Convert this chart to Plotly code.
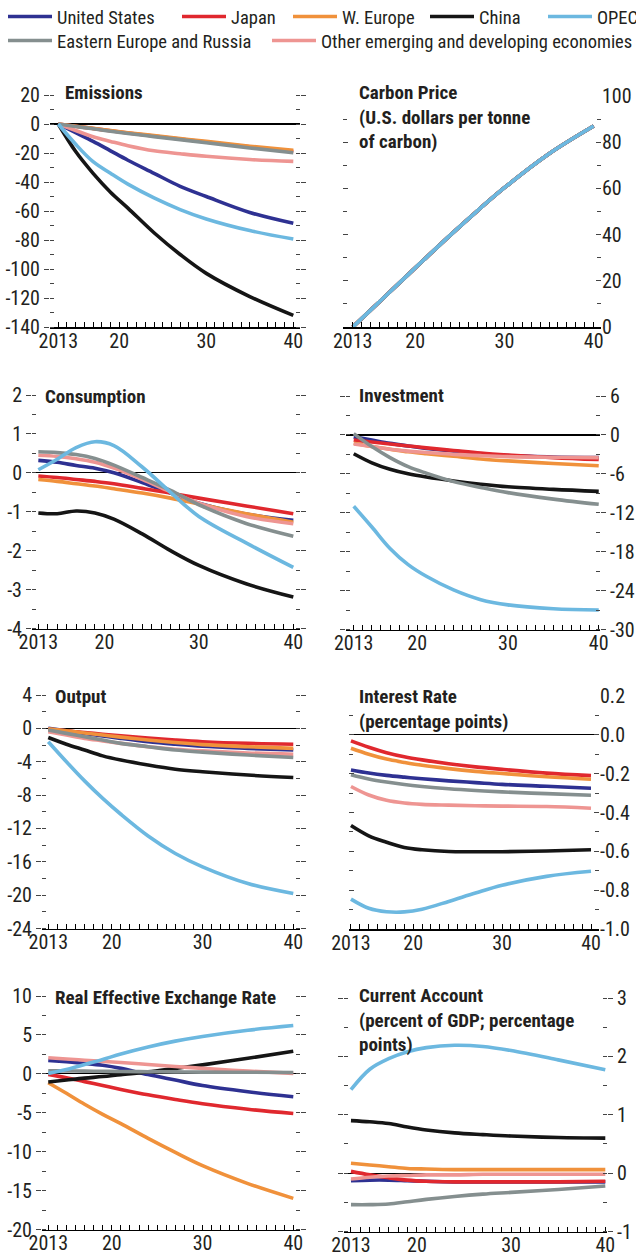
import numpy as np
import plotly.graph_objects as go

# ---------------- data ----------------
YEARS = [2013, 2015, 2017, 2019, 2021, 2024, 2027, 2030, 2035, 2040]
REGIONS = ["United States", "Japan", "W. Europe", "China", "OPEC",
           "Eastern Europe and Russia", "Other emerging and developing economies"]
COLORS = {
    "United States": "#2e3192",
    "Japan": "#e0282e",
    "W. Europe": "#f0913b",
    "China": "#151515",
    "OPEC": "#6cb8e0",
    "Eastern Europe and Russia": "#858f8f",
    "Other emerging and developing economies": "#ee9592",
}
# drawing order (later = on top)
DRAW_ORDER = ["United States", "Japan", "W. Europe", "China",
              "Other emerging and developing economies", "Eastern Europe and Russia", "OPEC"]

EMISSIONS = {
    "United States": [0, -6, -12, -18.5, -25, -34, -43, -50, -61, -68.5],
    "Japan": [0, -1.6, -3.1, -4.7, -6.2, -8.3, -10.4, -12.4, -15.8, -19.0],
    "W. Europe": [0, -1.5, -3.0, -4.5, -6.0, -8.0, -10.0, -12.0, -15.3, -18.2],
    "China": [0, -19, -34, -47, -58, -75, -90, -103, -119, -132],
    "OPEC": [0, -14, -26, -34, -41.5, -51, -59, -65.5, -73.5, -79.3],
    "Eastern Europe and Russia": [0, -1.7, -3.3, -5.0, -6.5, -8.7, -10.8, -12.9, -16.5, -19.8],
    "Other emerging and developing economies": [0, -4.5, -8.8, -12, -15, -18.5, -20.5, -22.3, -24.5, -25.8],
}
CARBON_PRICE = [0, 7.3, 14.6, 21.9, 29.2, 40, 50.4, 60.3, 75, 87]
CONSUMPTION = {
    "United States": [0.32, 0.27, 0.19, 0.12, 0.0, -0.25, -0.52, -0.78, -1.06, -1.22],
    "Japan": [-0.08, -0.12, -0.17, -0.22, -0.28, -0.40, -0.52, -0.65, -0.85, -1.05],
    "W. Europe": [-0.17, -0.22, -0.28, -0.34, -0.41, -0.52, -0.65, -0.80, -1.05, -1.27],
    "China": [-1.03, -1.05, -0.98, -1.03, -1.19, -1.57, -2.0, -2.38, -2.85, -3.19],
    "OPEC": [0.08, 0.35, 0.65, 0.80, 0.70, 0.15, -0.50, -1.12, -1.80, -2.43],
    "Eastern Europe and Russia": [0.54, 0.52, 0.47, 0.37, 0.20, -0.12, -0.45, -0.82, -1.30, -1.63],
    "Other emerging and developing economies": [0.45, 0.42, 0.36, 0.27, 0.12, -0.17, -0.49, -0.78, -1.12, -1.31],
}
INVESTMENT = {
    "United States": [-0.3, -0.8, -1.3, -1.7, -2.1, -2.5, -2.9, -3.2, -3.4, -3.5],
    "Japan": [-0.8, -1.1, -1.4, -1.7, -2.0, -2.4, -2.8, -3.1, -3.5, -3.8],
    "W. Europe": [-1.3, -1.8, -2.2, -2.6, -2.9, -3.3, -3.7, -4.0, -4.4, -4.75],
    "China": [-2.9, -4.3, -5.3, -6.0, -6.5, -7.1, -7.6, -8.0, -8.4, -8.7],
    "OPEC": [-11.0, -14.2, -17.5, -20.0, -21.8, -23.9, -25.4, -26.2, -26.8, -27.0],
    "Eastern Europe and Russia": [0.2, -1.8, -3.5, -4.9, -5.9, -7.2, -8.1, -8.9, -9.9, -10.7],
    "Other emerging and developing economies": [-1.4, -1.8, -2.2, -2.5, -2.7, -3.0, -3.2, -3.35, -3.45, -3.5],
}
OUTPUT = {
    "United States": [0, -0.3, -0.6, -0.9, -1.2, -1.6, -1.9, -2.15, -2.4, -2.6],
    "Japan": [-0.1, -0.3, -0.5, -0.7, -0.9, -1.15, -1.4, -1.6, -1.8, -1.9],
    "W. Europe": [-0.05, -0.3, -0.55, -0.8, -1.05, -1.4, -1.7, -1.95, -2.2, -2.4],
    "China": [-1.1, -1.9, -2.6, -3.3, -3.8, -4.4, -4.9, -5.2, -5.6, -5.9],
    "OPEC": [-1.6, -4.0, -6.3, -8.4, -10.3, -12.9, -15.0, -16.6, -18.6, -19.8],
    "Eastern Europe and Russia": [-0.2, -0.6, -1.0, -1.4, -1.8, -2.2, -2.6, -2.85, -3.2, -3.5],
    "Other emerging and developing economies": [-0.4, -0.8, -1.2, -1.5, -1.8, -2.2, -2.5, -2.7, -2.95, -3.1],
}
INTEREST_RATE = {
    "United States": [-0.181, -0.197, -0.209, -0.218, -0.226, -0.237, -0.246, -0.255, -0.265, -0.275],
    "Japan": [-0.031, -0.064, -0.092, -0.113, -0.129, -0.149, -0.165, -0.178, -0.197, -0.210],
    "W. Europe": [-0.069, -0.100, -0.125, -0.142, -0.157, -0.174, -0.188, -0.199, -0.216, -0.229],
    "China": [-0.467, -0.520, -0.553, -0.580, -0.592, -0.601, -0.602, -0.602, -0.598, -0.592],
    "OPEC": [-0.846, -0.893, -0.911, -0.912, -0.898, -0.858, -0.815, -0.775, -0.729, -0.703],
    "Eastern Europe and Russia": [-0.205, -0.227, -0.243, -0.256, -0.266, -0.278, -0.287, -0.294, -0.303, -0.311],
    "Other emerging and developing economies": [-0.266, -0.310, -0.337, -0.351, -0.358, -0.362, -0.365, -0.367, -0.369, -0.378],
}
REER = {
    "United States": [1.73, 1.55, 1.35, 1.1, 0.7, -0.1, -0.8, -1.5, -2.3, -2.95],
    "Japan": [-0.07, -0.5, -1.0, -1.5, -2.0, -2.7, -3.3, -3.85, -4.55, -5.1],
    "W. Europe": [-1.14, -2.5, -3.9, -5.2, -6.4, -8.3, -10.1, -11.8, -14.1, -16.0],
    "China": [-1.06, -0.8, -0.55, -0.35, -0.1, 0.25, 0.7, 1.15, 2.0, 2.9],
    "OPEC": [0.05, 0.55, 1.2, 1.85, 2.55, 3.45, 4.2, 4.8, 5.6, 6.2],
    "Eastern Europe and Russia": [0.4, 0.38, 0.35, 0.33, 0.3, 0.27, 0.25, 0.22, 0.2, 0.18],
    "Other emerging and developing economies": [2.07, 1.9, 1.75, 1.6, 1.45, 1.2, 0.95, 0.7, 0.35, 0.06],
}
CURRENT_ACCOUNT = {
    "United States": [-0.13, -0.12, -0.12, -0.13, -0.14, -0.15, -0.15, -0.15, -0.15, -0.15],
    "Japan": [0.03, -0.03, -0.08, -0.12, -0.14, -0.15, -0.15, -0.15, -0.15, -0.14],
    "W. Europe": [0.17, 0.14, 0.11, 0.08, 0.07, 0.06, 0.06, 0.06, 0.06, 0.06],
    "China": [0.90, 0.88, 0.85, 0.79, 0.74, 0.69, 0.66, 0.635, 0.61, 0.60],
    "OPEC": [1.43, 1.78, 1.96, 2.08, 2.15, 2.19, 2.17, 2.10, 1.94, 1.77],
    "Eastern Europe and Russia": [-0.54, -0.54, -0.53, -0.49, -0.45, -0.40, -0.36, -0.33, -0.28, -0.22],
    "Other emerging and developing economies": [-0.10, -0.07, -0.05, -0.04, -0.03, -0.03, -0.02, -0.02, -0.02, -0.02],
}

TITLES = [
    "Emissions",
    "Carbon Price<br>(U.S. dollars per tonne<br>of carbon)",
    "Consumption",
    "Investment",
    "Output",
    "Interest Rate<br>(percentage points)",
    "Real Effective Exchange Rate",
    "Current Account<br>(percent of GDP; percentage<br>points)",
]
X_TICKVALS = [2013, 2020, 2030, 2040]
X_TICKTEXT = ["2013", "20", "30", "40"]
# y axis: (min, max, major step, decimals)
Y_AXES = [(-140, 20, 20, 0), (0, 100, 20, 0), (-4, 2, 1, 0), (-30, 6, 6, 0),
          (-24, 4, 4, 0), (-1.0, 0.2, 0.2, 1), (-20, 10, 5, 0), (-1, 3, 1, 0)]

carbon = {r: CARBON_PRICE for r in REGIONS}
PANEL_DATA = [EMISSIONS, carbon, CONSUMPTION, INVESTMENT, OUTPUT, INTEREST_RATE, REER, CURRENT_ACCOUNT]

# ---------------- layout geometry (pixels) ----------------
W, H = 636, 1254
# left, right, top, bottom, x-range lo, x-range hi, side, tick direction
GEOM = [
    (50, 300, 95, 327, 2012.05, 2040.77, "left", "outside"),
    (343, 601, 96, 327, 2011.91, 2040.82, "right", "inside"),
    (32, 300, 395, 628.5, 2012.33, 2040.71, "left", "outside"),
    (346, 600, 396, 629.5, 2012.15, 2040.14, "right", "outside"),
    (42, 300, 695, 928.5, 2012.31, 2040.74, "left", "outside"),
    (349, 599, 696, 929, 2012.78, 2040.9, "right", "inside"),
    (42, 300, 996, 1229.5, 2012.31, 2040.74, "left", "outside"),
    (344, 607, 998, 1231.5, 2012.26, 2040.18, "right", "outside"),
]
TITLE_POS = [(63, 92), (357, 92), (43, 396), (357, 395), (53, 696), (357, 696), (53, 997), (357, 996)]
LEGEND_POS = [(9, 17), (183, 17), (294, 17), (431, 17), (549, 17), (9, 41), (273, 41)]

FONT = "Roboto Condensed, DejaVu Sans Condensed, Liberation Sans Narrow, Arial Narrow, sans-serif"
TXT = "#231f20"

fig = go.Figure()
layout = dict(
    width=W, height=H, paper_bgcolor="white", plot_bgcolor="white",
    margin=dict(l=0, r=0, t=0, b=0, autoexpand=False),
    showlegend=True, hovermode=False,
    font=dict(family=FONT, size=20, color=TXT),
)

legend_names = {}
for i, r in enumerate(REGIONS):
    key = "legend" if i == 0 else f"legend{i + 1}"
    legend_names[r] = key
    px, py = LEGEND_POS[i]
    layout[key] = dict(
        x=(px - 6) / W, y=1 - py / H, xanchor="left", yanchor="middle",
        orientation="h", itemwidth=44, bgcolor="rgba(0,0,0,0)",
        font=dict(family=FONT, size=18.5, color=TXT),
        tracegroupgap=0, itemclick=False, itemdoubleclick=False,
    )

annotations = []
for p in range(8):
    L, R, T, B, xlo, xhi, side, tdir = GEOM[p]
    ax = "" if p == 0 else str(p + 1)
    ymin, ymax, step, dec = Y_AXES[p]
    tv = np.round(np.arange(ymin, ymax + step / 2, step), 6)
    tt = [(f"{v:.{dec}f}" if dec else f"{int(round(v))}") for v in tv]
    tt = ["0.0" if t == "-0.0" else t for t in tt]
    mv = np.round(np.arange(ymin, ymax + step / 4, step / 2), 6)
    layout["xaxis" + ax] = dict(
        domain=[L / W, R / W], range=[xlo, xhi], anchor="y" + ax,
        showgrid=False, zeroline=False, showline=True, linecolor="#000", linewidth=1.5,
        tickmode="array", tickvals=X_TICKVALS, ticktext=X_TICKTEXT,
        ticks="inside", ticklen=5, tickwidth=1, tickcolor="#000",
        ticklabelstandoff=-5,
        minor=dict(tickmode="array", tickvals=list(range(2013, 2041)), ticks="inside",
                   ticklen=5, tickwidth=1, tickcolor="#000"),
        tickfont=dict(family=FONT, size=20, color=TXT), fixedrange=True,
    )
    layout["yaxis" + ax] = dict(
        domain=[1 - B / H, 1 - T / H], range=[ymin, ymax], anchor="x" + ax, side=side,
        showgrid=False, showline=False, mirror="ticks",
        zeroline=True, zerolinecolor="#000", zerolinewidth=1.2,
        tickmode="array", tickvals=list(tv), ticktext=tt,
        ticks=tdir, ticklen=5, tickwidth=1, tickcolor="#444",
        minor=dict(tickmode="array", tickvals=list(mv), ticks="inside", ticklen=4,
                   tickwidth=1, tickcolor="#444"),
        tickfont=dict(family=FONT, size=20, color=TXT), fixedrange=True,
    )
    tx, ty = TITLE_POS[p]
    annotations.append(dict(
        xref="paper", yref="paper", x=tx / W, y=1 - (ty - 13.5) / H,
        xanchor="left", yanchor="top", align="left", showarrow=False,
        text="<br>".join(f"<b>{s}</b>" for s in TITLES[p].split("<br>")),
        font=dict(family=FONT, size=19, color=TXT),
    ))
    data = PANEL_DATA[p]
    for r in DRAW_ORDER:
        fig.add_trace(go.Scatter(
            x=YEARS, y=data[r], mode="lines", name=r,
            line=dict(color=COLORS[r], width=3.6, shape="spline", smoothing=1.0),
            xaxis="x" + ax, yaxis="y" + ax,
            showlegend=(p == 0), legend=legend_names[r],
        ))

layout["annotations"] = annotations
fig.update_layout(**layout)
fig.write_html(
    "out.html",
    config={"displayModeBar": False, "staticPlot": True},
    post_script="document.documentElement.style.margin='0';document.body.style.margin='0';"
                "document.body.style.overflow='hidden';",
)
